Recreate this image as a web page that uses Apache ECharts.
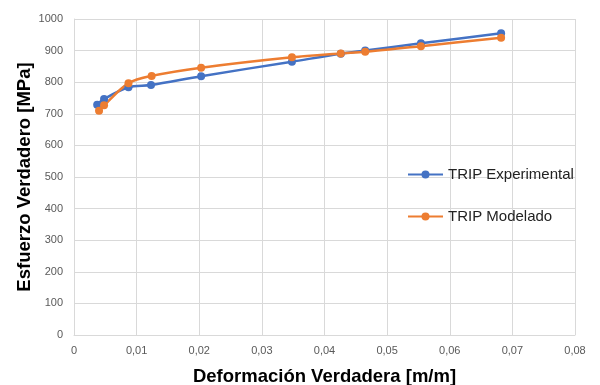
<!DOCTYPE html>
<html><head><meta charset="utf-8">
<script src="https://cdn.jsdelivr.net/npm/echarts@6/dist/echarts.min.js"></script>
<style>html,body{margin:0;padding:0;background:#fff}#c{width:600px;height:385px}</style>
</head><body><div id="c"></div>
<script>
const expX = [0.0037, 0.0048, 0.0087, 0.0123, 0.0203, 0.0348, 0.0426, 0.0465, 0.0554, 0.0682];
const expY = [729, 747, 784, 791, 819, 865, 890, 900, 923, 955];
const modX = [0.0040, 0.0048, 0.0087, 0.0124, 0.0203, 0.0348, 0.0426, 0.0465, 0.0554, 0.0682];
const modY = [710, 727, 797, 820, 846, 879, 891, 896, 914, 941];
const xTicks = ['0','0,01','0,02','0,03','0,04','0,05','0,06','0,07','0,08'];
const names = ['TRIP Experimental', 'TRIP Modelado'];
const colors = ['#4472C4', '#ED7D31'];

const pairs = (xs, ys) => xs.map((x, i) => [x, ys[i]]);
const chart = echarts.init(document.getElementById('c'));
const font = 'Liberation Sans, Arial, sans-serif';
chart.setOption({
  animation: false,
  textStyle: {fontFamily: font},
  grid: {left: 74, right: 25, top: 19, bottom: 50, containLabel: false, outerBoundsMode: 'none'},
  xAxis: {
    type: 'value', min: 0, max: 0.08, interval: 0.01,
    name: 'Deformación Verdadera [m/m]', nameLocation: 'middle', nameGap: 32, nameMoveOverlap: false,
    nameTextStyle: {fontSize: 18.5, fontWeight: 'bold', color: '#000', fontFamily: font},
    axisLine: {show: true, lineStyle: {color: '#d9d9d9'}},
    axisTick: {show: false},
    axisLabel: {color: '#595959', fontSize: 11, margin: 10, fontFamily: font,
      formatter: v => xTicks[Math.round(v / 0.01)]},
    splitLine: {show: true, lineStyle: {color: '#d9d9d9'}}
  },
  yAxis: {
    type: 'value', min: 0, max: 1000, interval: 100,
    name: 'Esfuerzo Verdadero [MPa]', nameLocation: 'middle', nameGap: 40, nameMoveOverlap: false,
    nameTextStyle: {fontSize: 18.5, fontWeight: 'bold', color: '#000', fontFamily: font},
    axisLine: {show: true, lineStyle: {color: '#d9d9d9'}},
    axisTick: {show: false},
    axisLabel: {color: '#595959', fontSize: 11, margin: 11, fontFamily: font,
      formatter: v => String(v)},
    splitLine: {show: true, lineStyle: {color: '#d9d9d9'}}
  },
  legend: {
    orient: 'vertical', left: 402, top: 162, itemGap: 27,
    itemWidth: 35, itemHeight: 10,
    textStyle: {fontSize: 15, color: '#222', fontFamily: font},
    data: names
  },
  series: [
    {name: names[0], type: 'line', data: pairs(expX, expY), smooth: 0.3,
     symbol: 'circle', symbolSize: 8, color: colors[0],
     lineStyle: {width: 2.5, color: colors[0]}, itemStyle: {color: colors[0]}},
    {name: names[1], type: 'line', data: pairs(modX, modY), smooth: 0.3,
     symbol: 'circle', symbolSize: 8, color: colors[1],
     lineStyle: {width: 2.5, color: colors[1]}, itemStyle: {color: colors[1]}}
  ]
});
</script></body></html>
